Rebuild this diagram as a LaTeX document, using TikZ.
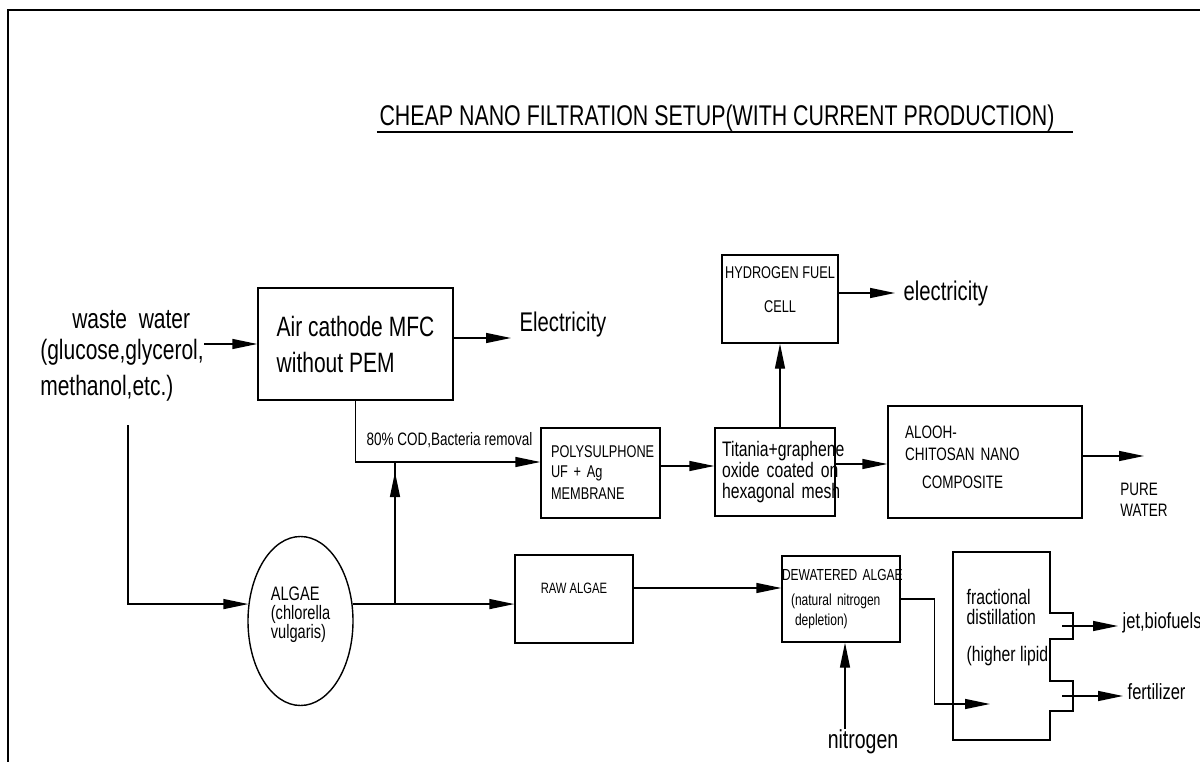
\documentclass[tikz,border=0pt]{standalone}
\usepackage{fontspec}
\setmainfont{Liberation Sans}[FakeStretch=0.75]
\usetikzlibrary{arrows.meta,positioning,shapes.geometric}

\begin{document}
\begin{tikzpicture}[x=1pt,y=-1pt,line width=1.4pt,
  box/.style={draw,rectangle,inner sep=0pt,align=left},
  lbl/.style={inner xsep=8pt,inner ysep=0pt,align=left},
  arrow/.style={-{Triangle[length=25pt,width=10pt]},line width=1.4pt}]
  \useasboundingbox (0,0) rectangle (1200,762);
  \draw[line width=2pt] (1200,10) -- (8,10) -- (8,762);
  \node[lbl,font=\fontsize{28.5}{32}\selectfont] (title) at (717,118) {CHEAP NANO FILTRATION SETUP(WITH CURRENT PRODUCTION)};
  \draw[line width=1.8pt] ([xshift=6pt]title.south west) -- ([xshift=10pt]title.south east);
  % upper line: waste water through the MFC to pure water
  \node[lbl,inner xsep=0pt,font=\fontsize{28}{31}\selectfont] (ww) at (122,356) {\hspace*{32pt}waste\ \ water\\(glucose,glycerol,\\[5pt]methanol,etc.)};
  \node[box,minimum width=195pt,minimum height=112pt,font=\fontsize{28}{36}\selectfont] (mfc) at (355.5,344) {Air cathode MFC\\without PEM};
  \node[lbl,anchor=west,font=\fontsize{27}{30}\selectfont] (el1) at (511,325) {Electricity};
  \node[lbl,inner xsep=0pt,font=\fontsize{18}{20}\selectfont] (cod) at (449.5,440) {80\% COD,Bacteria removal};
  \node[box,minimum height=90pt,text width=99pt,inner xsep=10pt,font=\fontsize{17}{20}\selectfont] (poly) at (600.5,473) {POLYSULPHONE\\UF + Ag\\[2pt]MEMBRANE};
  \node[box,minimum height=88pt,text width=106pt,inner xsep=7pt,font=\fontsize{21}{21}\selectfont] (tit) at (775,472) {\mbox{Titania+graphene}\\\mbox{oxide coated on}\\\mbox{hexagonal mesh}};
  \node[box,minimum width=116pt,minimum height=88pt,align=center,font=\fontsize{17}{34}\selectfont] (hfc) at (780,299) {HYDROGEN FUEL\\CELL\rule[-18pt]{0pt}{18pt}};
  \node[lbl,anchor=west,font=\fontsize{27}{30}\selectfont] (el2) at (895,294) {electricity};
  \node[box,minimum height=112pt,text width=160pt,inner xsep=17pt,font=\fontsize{18}{22}\selectfont] (aloo) at (985,462) {ALOOH-\\CHITOSAN NANO\\[6pt]\hspace*{17pt}COMPOSITE\rule[-10pt]{0pt}{10pt}};
  \node[lbl,inner xsep=0pt,font=\fontsize{18}{21}\selectfont] (pw) at (1144,500) {PURE\\WATER};
  % lower line: algae to biofuels
  \node[draw,ellipse,minimum width=105pt,minimum height=169pt,inner sep=0pt,align=left,font=\fontsize{19.5}{19}\selectfont] (algae) at (300.5,621) {ALGAE\\(chlorella\\vulgaris)\rule[-16pt]{0pt}{16pt}};
  \node[box,minimum width=118pt,minimum height=88pt,font=\fontsize{15}{18}\selectfont] (raw) at (574,599) {RAW ALGAE\rule[-22pt]{0pt}{22pt}};
  \node[box,minimum height=86pt,text width=118pt,font=\fontsize{16}{22}\selectfont] (dew) at (841,599) {\mbox{DEWATERED ALGAE}\\[3pt]\hspace*{9pt}(natural nitrogen\\[-2pt]\hspace*{13pt}depletion)};
  \node[lbl,inner xsep=0pt,font=\fontsize{26}{30}\selectfont] (nit) at (863,742) {nitrogen};
  \draw (953,552) -- ++(97,0) -- ++(0,61) -- ++(23,0) -- ++(0,26) -- ++(-23,0) -- ++(0,42)
    -- ++(23,0) -- ++(0,30) -- ++(-23,0) -- ++(0,29) -- ++(-97,0) -- cycle;
  \node[lbl,inner xsep=0pt,anchor=west,font=\fontsize{21}{20}\selectfont] (dtxt) at (966,628) {fractional\\distillation\\[17pt](higher lipid};
  \node[lbl,inner xsep=4pt,anchor=west,font=\fontsize{22}{24}\selectfont] (jet) at (1118,623) {jet,biofuels};
  \node[lbl,inner xsep=4pt,anchor=west,font=\fontsize{22}{24}\selectfont] (fert) at (1123,692) {fertilizer};
  \coordinate (wwd) at (128,425); \coordinate (jx) at (395,0);
  \coordinate (dtip) at (990,704);
  \coordinate (jetS) at (1062,626); \coordinate (fertS) at (1062,696);
  % connectors
  \draw[arrow] (ww.east |- mfc.west) -- (mfc.west);
  \draw[arrow] ([yshift=6pt]mfc.east) -- ([yshift=6pt]mfc.east -| el1.west);
  \draw[arrow] (mfc.south) |- ([yshift=11pt]poly.west);
  \draw[arrow] ([yshift=7pt]poly.east) -- ([yshift=7pt]poly.east -| tit.west);
  \draw[arrow] (hfc.south |- tit.north) -- (hfc.south);
  \draw[arrow] ([yshift=6pt]hfc.east) -- ([yshift=6pt]hfc.east -| el2.west);
  \draw[arrow] ([yshift=8pt]tit.east) -- ([yshift=8pt]tit.east -| aloo.west);
  \draw[arrow] ([yshift=6pt]aloo.east) -- ([yshift=6pt]aloo.east -| pw.north);
  \draw[arrow] (wwd) |- (algae.162);
  \draw[arrow] (algae.18) -- (algae.18 -| raw.west);
  \draw (algae.18 -| jx) -- ++(0,-142);
  \draw[arrow] (algae.18 -| jx) -- ++(0,-132);
  \draw[arrow] ([yshift=11pt]raw.east) -- ([yshift=11pt]raw.east -| dew.west);
  \draw[arrow] ([xshift=4pt]dew.south |- nit.north) -- ([xshift=4pt]dew.south);
  \draw[arrow] (dew.east) -- ++(34,0) |- (dtip);
  \draw[arrow] (jetS) -- (jetS -| jet.west);
  \draw[arrow] (fertS) -- (fertS -| fert.west);
\end{tikzpicture}
\end{document}
